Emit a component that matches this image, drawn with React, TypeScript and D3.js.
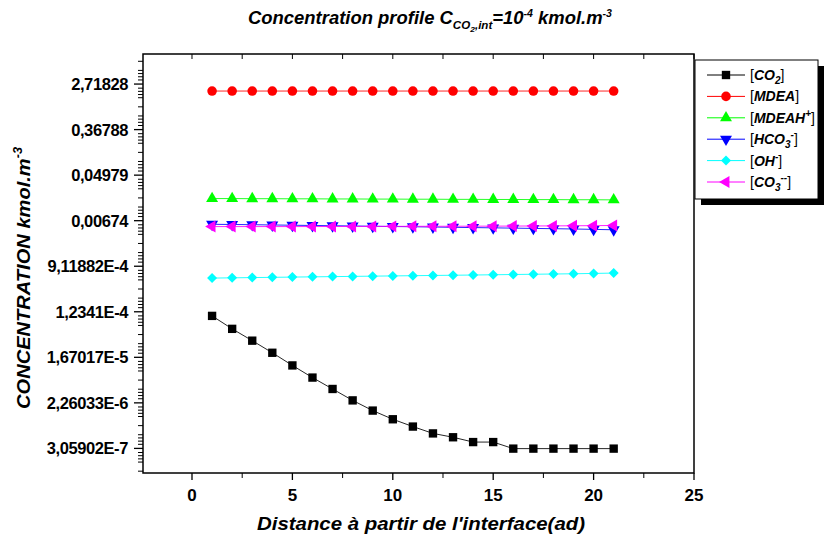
import React from "react";
import * as d3 from "d3";

const distances = [1, 2, 3, 4, 5, 6, 7, 8, 9, 10, 11, 12, 13, 14, 15, 16, 17, 18, 19, 20, 21];

const co2 = [1.03e-4, 5.83e-5, 3.47e-5, 2.04e-5, 1.17e-5, 6.86e-6, 4.16e-6, 2.52e-6, 1.61e-6, 1.1e-6, 7.98e-7, 5.91e-7, 4.99e-7, 4.04e-7, 4.04e-7, 3.03e-7, 3.03e-7, 3.03e-7, 3.03e-7, 3.03e-7, 3.03e-7];
const mdea = [2.0, 2.0, 2.0, 2.0, 2.0, 2.0, 2.0, 2.0, 2.0, 2.0, 2.0, 2.0, 2.0, 2.0, 2.0, 2.0, 2.0, 2.0, 2.0, 2.0, 2.0];
const mdeah = [0.0178, 0.0178, 0.0177, 0.0177, 0.0176, 0.0176, 0.0175, 0.0175, 0.0174, 0.0174, 0.0173, 0.0173, 0.0172, 0.0172, 0.0171, 0.0171, 0.017, 0.017, 0.0169, 0.0169, 0.0168];
const hco3 = [0.00575, 0.0057, 0.00565, 0.00558, 0.00552, 0.00546, 0.0054, 0.00534, 0.00528, 0.00522, 0.00516, 0.0051, 0.00504, 0.00498, 0.00492, 0.00486, 0.0048, 0.00474, 0.00468, 0.0046, 0.00452];
const oh = [5.42e-4, 5.48e-4, 5.54e-4, 5.6e-4, 5.66e-4, 5.72e-4, 5.78e-4, 5.84e-4, 5.9e-4, 5.96e-4, 6.02e-4, 6.08e-4, 6.14e-4, 6.2e-4, 6.27e-4, 6.34e-4, 6.41e-4, 6.48e-4, 6.55e-4, 6.65e-4, 6.75e-4];
const co3 = [0.0052, 0.0052, 0.0052, 0.0052, 0.0052, 0.00521, 0.00522, 0.00523, 0.00524, 0.00525, 0.00526, 0.00527, 0.00528, 0.00529, 0.0053, 0.00532, 0.00534, 0.00536, 0.00539, 0.00542, 0.00546];

const xTicks = [0, 5, 10, 15, 20, 25];
const yTickExponents = [1, -1, -3, -5, -7, -9, -11, -13, -15];
const yTickLabels = ["2,71828", "0,36788", "0,04979", "0,00674", "9,11882E-4", "1,2341E-4", "1,67017E-5", "2,26033E-6", "3,05902E-7"];

type Series = { key: string; values: number[]; color: string; symbol: d3.SymbolType; rotate: number; size: number };

const series: Series[] = [
  { key: "co2", values: co2, color: "#000000", symbol: d3.symbolSquare, rotate: 0, size: 70 },
  { key: "mdea", values: mdea, color: "#ff0000", symbol: d3.symbolCircle, rotate: 0, size: 72 },
  { key: "mdeah", values: mdeah, color: "#00ff00", symbol: d3.symbolTriangle, rotate: 0, size: 62 },
  { key: "hco3", values: hco3, color: "#0000ff", symbol: d3.symbolTriangle, rotate: 180, size: 62 },
  { key: "oh", values: oh, color: "#00ffff", symbol: d3.symbolSquare, rotate: 45, size: 50 },
  { key: "co3", values: co3, color: "#ff00ff", symbol: d3.symbolTriangle, rotate: -90, size: 62 },
];

const W = 824;
const H = 540;
const left = 143;
const right = 694;
const top = 54;
const bottom = 473;

const FONT = "'Liberation Sans', Arial, sans-serif";

export default function App() {
  const x = d3.scaleLinear().domain([-2.44, 25]).range([left, right]);
  const y = d3.scaleLog().base(Math.E).domain([Math.exp(-16.08), Math.exp(2.32)]).range([bottom, top]);

  const line = d3
    .line<number>()
    .x((_, i) => x(distances[i]))
    .y((v) => y(v));

  const minorFracs = [0.09, 0.16, 0.23, 0.3, 0.5, 0.7, 0.77, 0.84, 0.91];
  const yMinor: number[] = [];
  for (let e = -17; e <= 3; e += 2) {
    for (const f of minorFracs) {
      const v = e + 2 * f;
      if (v > -16.08 && v < 2.32) yMinor.push(Math.exp(v));
    }
  }
  for (let e = -17; e <= 3; e += 2) {
    if (e > -16.08 && e < 2.32 && !yTickExponents.includes(e)) yMinor.push(Math.exp(e));
  }
  const xMinor = d3.range(-2.5, 25.01, 2.5).filter((v) => !xTicks.includes(v) && x(v) >= left - 0.5);
  const topTicks = d3.range(0, 25.01, 2.5);

  const legendItems = [
    { s: series[0], label: [["[", "n"], ["CO", "b"], ["2", "sub"], ["]", "n"]] },
    { s: series[1], label: [["[", "n"], ["MDEA", "b"], ["]", "n"]] },
    { s: series[2], label: [["[", "n"], ["MDEAH", "b"], ["+", "sup"], ["]", "n"]] },
    { s: series[3], label: [["[", "n"], ["HCO", "b"], ["3", "sub"], ["-", "sup"], ["]", "n"]] },
    { s: series[4], label: [["[", "n"], ["OH", "b"], ["-", "sup"], ["]", "n"]] },
    { s: series[5], label: [["[", "n"], ["CO", "b"], ["3", "sub"], ["--", "sup"], ["]", "n"]] },
  ];

  const lgX = 695;
  const lgY = 60;
  const lgW = 123;
  const lgH = 139;

  const renderLabel = (parts: string[][]) => {
    const out: React.ReactNode[] = [];
    let shift = 0;
    parts.forEach(([t, k], i) => {
      let dy = 0;
      let fs = 14;
      let fw = "bold";
      let fst = "italic";
      if (k === "n") {
        fw = "normal";
        fst = "normal";
      }
      if (k === "sub") {
        dy = 4 - shift;
        shift = 4;
        fs = 10;
      } else if (k === "sup") {
        dy = -6 - shift;
        shift = -6;
        fs = 10;
      } else {
        dy = -shift;
        shift = 0;
      }
      out.push(
        <tspan key={i} dy={dy} fontSize={fs} fontWeight={fw} fontStyle={fst}>
          {t}
        </tspan>
      );
    });
    return out;
  };

  return (
    <div style={{ position: "absolute", left: 0, top: 0 }}>
      <svg width={W} height={H} style={{ display: "block", background: "#fff" }} fontFamily={FONT}>
        <rect width={W} height={H} fill="#fff" />
        {/* title */}
        <text x={430} y={24} textAnchor="middle" fontSize={17.5} fontWeight="bold" fontStyle="italic" textLength={364} lengthAdjust="spacingAndGlyphs">
          Concentration profile C
          <tspan dy={5} fontSize={11}>CO</tspan>
          <tspan dy={3} fontSize={8}>2</tspan>
          <tspan dy={-3} fontSize={11}>,int</tspan>
          <tspan dy={-5}>=10</tspan>
          <tspan dy={-7} fontSize={10}>-4</tspan>
          <tspan dy={7}> kmol.m</tspan>
          <tspan dy={-7} fontSize={10}>-3</tspan>
        </text>

        {/* series */}
        {series.map((s) => (
          <g key={s.key}>
            <path d={line(s.values) || ""} fill="none" stroke={s.color} strokeWidth={1} strokeOpacity={0.85} />
            {s.values.map((v, i) => (
              <path
                key={i}
                d={d3.symbol(s.symbol, s.size)() || ""}
                transform={`translate(${x(distances[i])},${y(v)}) rotate(${s.rotate})`}
                fill={s.color}
              />
            ))}
          </g>
        ))}

        {/* frame */}
        <rect x={left} y={top} width={right - left} height={bottom - top} fill="none" stroke="#000" strokeWidth={1.5} />

        {/* y ticks */}
        {yTickExponents.map((e, i) => (
          <g key={e}>
            <line x1={left - 9} x2={left} y1={y(Math.exp(e))} y2={y(Math.exp(e))} stroke="#000" strokeWidth={1.3} />
            <text x={left - 15} y={y(Math.exp(e)) + 6} textAnchor="end" fontSize={16.5} fontWeight="bold" letterSpacing={-0.4}>
              {yTickLabels[i]}
            </text>
          </g>
        ))}
        {yMinor.map((v, i) => (
          <line key={i} x1={left - 5} x2={left} y1={y(v)} y2={y(v)} stroke="#000" strokeWidth={1} />
        ))}

        {/* x ticks */}
        {xTicks.map((t) => (
          <g key={t}>
            <line x1={x(t)} x2={x(t)} y1={bottom} y2={bottom + 7} stroke="#000" strokeWidth={1.3} />
            <text x={x(t)} y={bottom + 28} textAnchor="middle" fontSize={17} fontWeight="bold">
              {t}
            </text>
          </g>
        ))}
        {xMinor.map((t) => (
          <line key={t} x1={x(t)} x2={x(t)} y1={bottom} y2={bottom + 5} stroke="#000" strokeWidth={1} />
        ))}
        {topTicks.map((t) => (
          <line key={t} x1={x(t)} x2={x(t)} y1={top} y2={top + 5} stroke="#000" strokeWidth={1} />
        ))}

        {/* axis labels */}
        <text x={421} y={530} textAnchor="middle" fontSize={19} fontWeight="bold" fontStyle="italic" textLength={328} lengthAdjust="spacingAndGlyphs">
          Distance à partir de l'interface(ad)
        </text>
        <text transform="translate(30,278) rotate(-90)" textAnchor="middle" fontSize={19} fontWeight="bold" fontStyle="italic" textLength={262} lengthAdjust="spacingAndGlyphs">
          CONCENTRATION kmol.m
          <tspan dy={-8} fontSize={12}>-3</tspan>
        </text>

        {/* legend */}
        <rect x={lgX + 6} y={lgY + 6} width={lgW} height={lgH} fill="#000" />
        <rect x={lgX} y={lgY} width={lgW} height={lgH} fill="#fff" stroke="#000" strokeWidth={1} />
        {legendItems.map((it, i) => {
          const cy = lgY + 15 + i * 21.4;
          return (
            <g key={i}>
              <line x1={lgX + 12} x2={lgX + 50} y1={cy} y2={cy} stroke={it.s.color} strokeWidth={1} />
              <path
                d={d3.symbol(it.s.symbol, it.s.size)() || ""}
                transform={`translate(${lgX + 31},${cy}) rotate(${it.s.rotate})`}
                fill={it.s.color}
              />
              <text x={lgX + 55} y={cy + 5}>
                {renderLabel(it.label)}
              </text>
            </g>
          );
        })}
      </svg>
    </div>
  );
}
